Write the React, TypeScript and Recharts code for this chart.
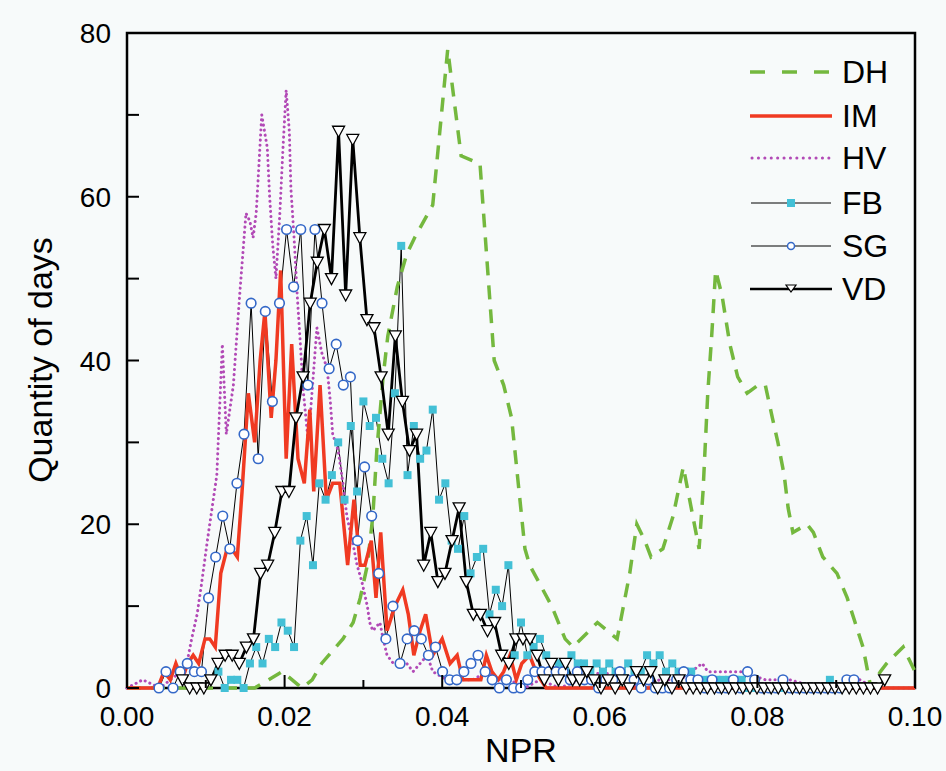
import React from 'react';
import { LineChart, Line, XAxis, YAxis, ReferenceArea, Label } from 'recharts';

// binned series: bin centre = start + i * step
const fbStart = 0.0116;
const fbStep = 0.0008;
const fbDays = [
  2, 0, 1, 1, 0, 3,
  5, 3, 6, 5, 8, 7, 5, 18, 21, 15,
  25, 23, 26, 30, 23, 32, 24, 35, 32, 33,
  28, 25, 36, 54, 26, 32, 28, 29, 34, 23,
  25, 18, 17, 21, 14, 16, 17, 9, 12, 10,
  15, 4, 8, 4, 5, 6, 4, 2, 3, 2,
  4, 3, 3, 2, 3, 2, 3, 2, 2, 3,
  2, 2, 4, 3, 4, 2, 3, 2, 2, 2,
  1, 1, 1, 1, 1, 1, 1, 1, 0, 0,
  0, 0, 0, 0, 0, 0, 0, 0, 0, 0,
  0, 1,
];

const sgStart = 0.00405;
const sgStep = 0.0009;
const sgDays = [
  0, 2, 0, 2, 3, 2,
  2, 11, 16, 21, 17, 25, 31, 47, 28, 46,
  35, 47, 56, 49, 56, 37, 56, 47, 39, 42,
  37, 38, 18, 27, 21, 14, 6, 10, 3, 6,
  7, 6, 4, 5, 2, 1, 1, 2, 3, 4,
  2, 1, 0, 1, 0, 0, 1, 2, 2, 2,
  2, 2, 1, 2, 1, 1, 0, 1, 1, 2,
  1, 1, 0, 1, 0, 0, 0, 1, 2, 1,
  1, 0, 1, 0, 0, 1, 0, 2, 1, 0,
  0, 0, 1, 0, 0, 0, 0, 0, 0, 0,
  0, 1, 1,
];

const vdStart = 0.00705;
const vdStep = 0.0009;
const vdDays = [
  1, 0, 0,
  0, 1, 3, 4, 4, 3, 5, 6, 14, 15,
  19, 24, 24, 33, 38, 47, 52, 56, 50, 68,
  48, 67, 55, 45, 44, 38, 31, 43, 35, 29,
  31, 15, 19, 13, 14, 18, 22, 13, 9, 9,
  7, 8, 4, 3, 6, 6, 6, 4, 1, 3,
  1, 3, 1, 1, 2, 1, 0, 1, 0, 1,
  0, 2, 1, 2, 0, 1, 0, 1, 0, 0,
  0, 0, 0, 0, 0, 0, 0, 0, 0, 0,
  0, 0, 0, 0, 0, 0, 0, 0, 0, 0,
  0, 0, 0, 0, 0, 0, 1,
];

// line-only series, vertices
const dhNpr = [
  0, 0.0162, 0.0197, 0.0222, 0.0235, 0.0247, 0.0274, 0.0287, 0.0296, 0.0305,
  0.0312, 0.0317, 0.0325, 0.0331, 0.0343, 0.0355, 0.0365, 0.0388, 0.0407, 0.0424,
  0.0448, 0.0466, 0.0478, 0.0488, 0.0505, 0.0511, 0.0539, 0.0556, 0.0566, 0.0597,
  0.0622, 0.0638, 0.0647, 0.0657, 0.0665, 0.068, 0.0693, 0.0706, 0.0714, 0.0726,
  0.0731, 0.0737, 0.0742, 0.0747, 0.0755, 0.0765, 0.0775, 0.0787, 0.0801, 0.081,
  0.0819, 0.0826, 0.0834, 0.0839, 0.0845, 0.0863, 0.0871, 0.0883, 0.0901, 0.0914,
  0.0924, 0.0934, 0.0944, 0.0956, 0.0964, 0.0985, 0.1,
];
const dhDays = [
  0, 0, 2, 0, 1, 3, 6, 8, 11, 15,
  21, 29, 38, 43, 49, 53, 55, 59, 78, 65,
  64, 40, 37, 33, 17, 15, 10, 6, 5, 8,
  6, 14, 20, 18, 16, 17, 21, 27, 23, 17,
  24, 36, 43, 51, 48, 42, 38, 36, 37, 37,
  33, 30, 26, 22, 19, 20, 19, 16, 14, 11,
  8, 5, 0, 2, 3, 5, 2,
];

const imNpr = [
  0, 0.0039, 0.0047, 0.0055, 0.0062, 0.007, 0.0077, 0.0084, 0.0091, 0.0099,
  0.0105, 0.0112, 0.0119, 0.0127, 0.0133, 0.014, 0.0146, 0.0154, 0.0162, 0.0169,
  0.0175, 0.0183, 0.0189, 0.0195, 0.0202, 0.0209, 0.0217, 0.0225, 0.0232, 0.0237,
  0.0245, 0.0253, 0.0261, 0.027, 0.028, 0.0288, 0.0296, 0.0302, 0.031, 0.0316,
  0.0322, 0.033, 0.034, 0.035, 0.0357, 0.0364, 0.0372, 0.0379, 0.0388, 0.04,
  0.041, 0.0419, 0.0426, 0.0435, 0.0443, 0.0449, 0.0456, 0.0463, 0.0471, 0.0478,
  0.0486, 0.0494, 0.0501, 0.0511, 0.0519, 0.0525, 0.0532, 0.1,
];
const imDays = [
  0, 0, 2, 1, 3, 1, 3, 4, 3, 6,
  6, 5, 14, 17, 17, 16, 24, 36, 30, 40,
  46, 33, 40, 51, 28, 42, 28, 25, 34, 24,
  37, 23, 25, 25, 15, 23, 15, 15, 18, 11,
  19, 7, 10, 12, 9, 4, 7, 9, 4, 6,
  3, 4, 1, 1, 1, 1, 4, 2, 1, 2,
  4, 1, 3, 4, 2, 1, 0, 0,
];

const hvNpr = [
  0, 0.002, 0.0042, 0.0055, 0.0069, 0.0076, 0.0082, 0.0089, 0.0095, 0.0102,
  0.0108, 0.0114, 0.0121, 0.0126, 0.0135, 0.0143, 0.0151, 0.0156, 0.016, 0.0164,
  0.0171, 0.0178, 0.0181, 0.0185, 0.0189, 0.0194, 0.0198, 0.0202, 0.0206, 0.0208,
  0.0212, 0.0216, 0.022, 0.0223, 0.023, 0.0241, 0.0247, 0.0254, 0.0258, 0.0261,
  0.0268, 0.0274, 0.0279, 0.0286, 0.0292, 0.0298, 0.0305, 0.0308, 0.0312, 0.0321,
  0.0325, 0.033, 0.0338, 0.0346, 0.0355, 0.0363, 0.0372, 0.0381, 0.0388, 0.0406,
  0.0423, 0.0439, 0.0457, 0.047, 0.0486, 0.0505, 0.0524, 0.0549, 0.0575, 0.0604,
  0.0626, 0.0651, 0.0676, 0.0702, 0.073, 0.0737, 0.0756, 0.078, 0.081, 0.0841,
  0.0879, 0.093, 0.0949, 0.1,
];
const hvDays = [
  0, 1, 0, 1, 2, 3, 6, 9, 13, 18,
  22, 26, 42, 31, 37, 48, 58, 57, 55, 58,
  70, 66, 60, 54, 50, 58, 66, 73, 68, 61,
  55, 48, 42, 37, 30, 44, 41, 39, 35, 31,
  29, 25, 21, 18, 15, 13, 10, 8, 7, 8,
  6, 4, 3, 3, 3, 2, 3, 4, 2, 1,
  1, 1, 2, 1, 1, 0, 1, 0, 1, 2,
  1, 0, 1, 1, 3, 2, 2, 2, 1, 1,
  0, 1, 0, 0,
];

const xTicks = [0, 0.01, 0.02, 0.03, 0.04, 0.05, 0.06, 0.07, 0.08, 0.09, 0.1];
const yTicks = [0, 10, 20, 30, 40, 50, 60, 70, 80];

const binned = (start: number, step: number, days: number[]) =>
  days.map((y, i) => ({ x: +(start + i * step).toFixed(5), y }));
const paired = (xs: number[], ys: number[]) => xs.map((x, i) => ({ x, y: ys[i] }));

const fbData = binned(fbStart, fbStep, fbDays);
const sgData = binned(sgStart, sgStep, sgDays);
const vdData = binned(vdStart, vdStep, vdDays);
const dhData = paired(dhNpr, dhDays);
const imData = paired(imNpr, imDays);
const hvData = paired(hvNpr, hvDays);

const FONT = '"Liberation Sans", Arial, sans-serif';
const LEFT = 127;
const BOTTOM = 688;

const GREEN = '#74b83e';
const RED = '#f03a22';
const PURPLE = '#b24ab6';
const CYAN = '#43c0d6';
const BLUE = '#3468c8';

const XTick = (p: any) => {
  const v = p.payload.value;
  const major = Math.round(v * 100) % 2 === 0;
  return (
    <g>
      <line x1={p.x} x2={p.x} y1={BOTTOM} y2={BOTTOM - (major ? 13 : 8)} stroke="#000" strokeWidth={2} />
      {major && (
        <text x={p.x} y={726} textAnchor="middle" fontSize={28} fontFamily={FONT} fill="#000">
          {v.toFixed(2)}
        </text>
      )}
    </g>
  );
};

const YTick = (p: any) => {
  const v = p.payload.value;
  const major = v % 20 === 0;
  return (
    <g>
      <line x1={LEFT} x2={LEFT + 12} y1={p.y} y2={p.y} stroke="#000" strokeWidth={2} />
      {major && (
        <text x={111} y={p.y + 10} textAnchor="end" fontSize={28} fontFamily={FONT} fill="#000">
          {v}
        </text>
      )}
    </g>
  );
};

const Square = (p: any) => (
  <rect key={p.index} x={p.cx - 4} y={p.cy - 4} width={8} height={8} fill={CYAN} />
);
const Circle = (p: any) => (
  <circle key={p.index} cx={p.cx} cy={p.cy} r={4.8} fill="#fff" stroke={BLUE} strokeWidth={1.6} />
);
const Tri = (p: any) => (
  <polygon
    key={p.index}
    points={`${p.cx - 6},${p.cy - 5} ${p.cx + 6},${p.cy - 5} ${p.cx},${p.cy + 6}`}
    fill="#fff"
    stroke="#000"
    strokeWidth={1.3}
  />
);

const legendRows = [
  { name: 'DH', y: 72 },
  { name: 'IM', y: 116 },
  { name: 'HV', y: 158 },
  { name: 'FB', y: 203 },
  { name: 'SG', y: 246 },
  { name: 'VD', y: 289 },
];

const Sample = ({ name }: { name: string }) => {
  if (name === 'DH') return <line x1={0} x2={82} y1={10} y2={10} stroke={GREEN} strokeWidth={3.5} strokeDasharray="15 17" />;
  if (name === 'IM') return <line x1={0} x2={82} y1={10} y2={10} stroke={RED} strokeWidth={3.5} />;
  if (name === 'HV')
    return <line x1={2} x2={82} y1={10} y2={10} stroke={PURPLE} strokeWidth={3} strokeDasharray="0.1 6.3" strokeLinecap="round" />;
  if (name === 'FB')
    return (
      <g>
        <line x1={1} x2={81} y1={10} y2={10} stroke="#000" strokeWidth={1} />
        <rect x={37} y={6} width={8} height={8} fill={CYAN} />
      </g>
    );
  if (name === 'SG')
    return (
      <g>
        <line x1={1} x2={81} y1={10} y2={10} stroke="#000" strokeWidth={1} />
        <circle cx={41} cy={10} r={3.5} fill="#fff" stroke={BLUE} strokeWidth={1.5} />
      </g>
    );
  return (
    <g>
      <line x1={0} x2={82} y1={10} y2={10} stroke="#000" strokeWidth={2.5} />
      <polygon points="36,6 46,6 41,13" fill="#fff" stroke="#000" strokeWidth={1.2} />
    </g>
  );
};

export default function App() {
  return (
    <div style={{ position: 'fixed', left: 0, top: 0, width: 946, height: 771, background: '#f7fafa' }}>
      <LineChart width={946} height={771} margin={{ top: 33, right: 31, bottom: 33, left: 57 }}>
        <XAxis
          type="number"
          dataKey="x"
          domain={[0, 0.1]}
          ticks={xTicks}
          interval={0}
          axisLine={false}
          tickLine={false}
          tick={<XTick />}
          height={50}
        >
          <Label
            content={() => (
              <text x={521} y={762} textAnchor="middle" fontSize={34} fontFamily={FONT} fill="#000">
                NPR
              </text>
            )}
          />
        </XAxis>
        <YAxis
          type="number"
          domain={[0, 80]}
          ticks={yTicks}
          interval={0}
          axisLine={false}
          tickLine={false}
          tick={<YTick />}
          width={70}
        >
          <Label
            content={() => (
              <text
                x={52}
                y={360}
                transform="rotate(-90 52 360)"
                textAnchor="middle"
                fontSize={34}
                fontFamily={FONT}
                fill="#000"
              >
                Quantity of days
              </text>
            )}
          />
        </YAxis>
        <Line data={fbData} dataKey="y" stroke="#000" strokeWidth={1} dot={<Square />} activeDot={false} isAnimationActive={false} />
        <Line data={sgData} dataKey="y" stroke="#000" strokeWidth={1} dot={<Circle />} activeDot={false} isAnimationActive={false} />
        <Line data={dhData} dataKey="y" stroke={GREEN} strokeWidth={3.5} strokeDasharray="14 10" dot={false} activeDot={false} isAnimationActive={false} />
        <Line
          data={hvData}
          dataKey="y"
          stroke={PURPLE}
          strokeWidth={3}
          strokeDasharray="0.1 5"
          strokeLinecap="round"
          dot={false}
          activeDot={false}
          isAnimationActive={false}
        />
        <Line data={imData} dataKey="y" stroke={RED} strokeWidth={3.5} dot={false} activeDot={false} isAnimationActive={false} />
        <Line data={vdData} dataKey="y" stroke="#000" strokeWidth={2.8} dot={<Tri />} activeDot={false} isAnimationActive={false} />
        <ReferenceArea x1={0} x2={0.1} y1={0} y2={80} fill="none" stroke="#000" strokeWidth={2.5} />
      </LineChart>
      {legendRows.map((r) => (
        <div
          key={r.name}
          style={{ position: 'absolute', left: 750, top: r.y - 18, height: 36, display: 'flex', alignItems: 'center' }}
        >
          <svg width={84} height={20} style={{ display: 'block' }}>
            <Sample name={r.name} />
          </svg>
          <span style={{ marginLeft: 8, fontSize: 32, fontFamily: FONT, lineHeight: '36px', color: '#000' }}>{r.name}</span>
        </div>
      ))}
    </div>
  );
}
